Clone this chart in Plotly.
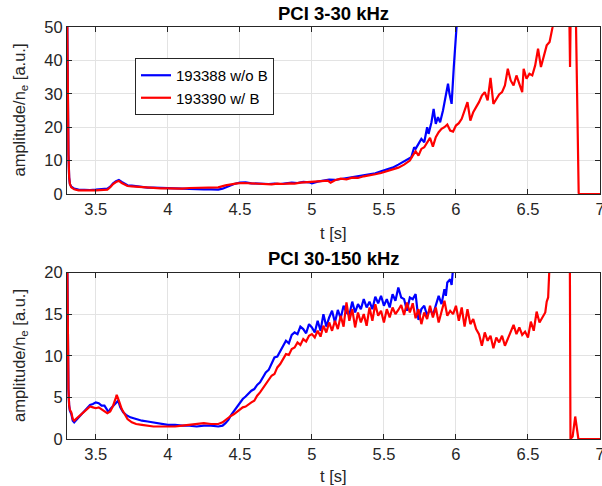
import plotly.graph_objects as go

# ---------------- data ----------------
# Top panel: PCI 3-30 kHz
t_top_blue = [3.300, 3.305, 3.310, 3.315, 3.32, 3.33, 3.35, 3.38, 3.42, 3.46, 3.50, 3.54, 3.58, 3.60, 3.62,
              3.64, 3.66, 3.68, 3.70, 3.72, 3.75, 3.78, 3.82, 3.86, 3.90, 3.95, 4.00, 4.05, 4.10, 4.15,
              4.20, 4.25, 4.30, 4.35, 4.38, 4.42, 4.46, 4.50, 4.54, 4.58, 4.62, 4.66, 4.70, 4.74, 4.78,
              4.82, 4.86, 4.90, 4.94, 4.98, 5.00, 5.04, 5.08, 5.12, 5.16, 5.20, 5.24, 5.28, 5.32, 5.36,
              5.40, 5.44, 5.48, 5.52, 5.56, 5.60, 5.63, 5.66, 5.69, 5.71, 5.72, 5.74, 5.76, 5.78, 5.80,
              5.81, 5.83, 5.845, 5.86, 5.875, 5.89, 5.91, 5.93, 5.945, 5.955, 5.97, 5.985, 5.995, 6.005, 6.02]
v_top_blue = [60, 30, 12, 5, 3, 2.2, 1.6, 1.3, 1.2, 1.2, 1.3, 1.5, 1.6, 2.2, 3.2,
              3.8, 4.2, 3.6, 3.0, 2.6, 2.5, 2.3, 2.1, 1.9, 1.9, 1.8, 1.8, 1.6, 1.5, 1.6,
              1.5, 1.4, 1.4, 1.3, 1.6, 2.3, 3.0, 3.4, 3.5, 3.2, 3.1, 3.2, 3.0, 3.1, 3.0,
              3.2, 3.4, 3.3, 3.6, 3.5, 3.2, 3.7, 3.9, 4.3, 4.2, 4.5, 4.6, 4.9, 5.2, 5.5,
              5.8, 6.2, 6.8, 7.3, 7.9, 8.8, 9.5, 10.2, 11.0, 14.0, 13.5, 15.0, 16.5, 15.5, 20.0,
              18.0, 21.5, 25.5, 21.0, 23.0, 21.5, 25.0, 29.0, 33.0, 30.0, 27.0, 38.0, 45.0, 52.0, 60.0]

t_top_red = [3.300, 3.305, 3.310, 3.315, 3.32, 3.33, 3.35, 3.38, 3.42, 3.46, 3.50, 3.54, 3.58, 3.60, 3.62,
             3.64, 3.66, 3.68, 3.70, 3.72, 3.75, 3.78, 3.82, 3.86, 3.90, 3.95, 4.00, 4.05, 4.10, 4.15,
             4.20, 4.25, 4.30, 4.35, 4.40, 4.44, 4.48, 4.52, 4.56, 4.60, 4.64, 4.68, 4.72, 4.76, 4.80,
             4.84, 4.88, 4.92, 4.96, 5.00, 5.04, 5.08, 5.11, 5.13, 5.16, 5.20, 5.24, 5.28, 5.32, 5.36,
             5.40, 5.44, 5.48, 5.52, 5.56, 5.60, 5.64, 5.68, 5.70, 5.72, 5.74, 5.76, 5.78, 5.80, 5.82,
             5.84, 5.86, 5.88, 5.90, 5.92, 5.94, 5.96, 5.98, 6.00, 6.02, 6.04, 6.06, 6.08, 6.10, 6.12,
             6.14, 6.16, 6.18, 6.20, 6.22, 6.24, 6.26, 6.28, 6.30, 6.32, 6.34, 6.36, 6.38, 6.40, 6.42,
             6.44, 6.46, 6.47, 6.49, 6.51, 6.53, 6.55, 6.57, 6.59, 6.61, 6.63, 6.65, 6.67, 6.69, 6.785,
             6.792, 6.798, 6.83, 6.852, 6.86, 7.00]
v_top_red = [60, 30, 12, 5, 3, 2.0, 1.4, 1.1, 1.0, 1.1, 1.1, 1.2, 1.3, 2.0, 3.0,
             3.6, 3.9, 3.3, 2.8, 2.4, 2.3, 2.2, 2.0, 1.8, 1.8, 1.7, 1.7, 1.6, 1.6, 1.8,
             1.9, 2.0, 1.9, 2.0, 2.6, 3.0, 3.2, 3.3, 3.2, 3.0, 2.9, 3.0, 2.9, 3.1, 3.0,
             3.2, 3.1, 3.4, 3.5, 3.6, 3.8, 3.9, 4.0, 3.4, 4.1, 4.6, 4.4, 4.9, 4.8, 5.3,
             5.5, 5.9, 6.3, 6.8, 7.2, 7.9, 8.8, 10.0, 11.5, 12.8, 11.5, 13.5, 14.0, 15.5, 16.8,
             14.2, 17.0, 18.5, 19.5, 20.0, 20.8, 19.0, 18.7, 20.5, 21.2, 22.5, 25.0, 27.5, 22.0, 24.5,
             26.0, 27.5, 29.5, 30.5, 28.0, 34.8, 27.0, 28.5, 29.8, 30.5, 32.5, 37.5, 34.0, 32.5, 35.5,
             33.0, 30.5, 37.5, 34.5, 36.0, 35.5, 38.5, 43.5, 38.0, 41.5, 44.5, 45.5, 49.8, 60, 60,
             38, 60, 60, 0.3, 0, 0]

# Bottom panel: PCI 30-150 kHz
t_bot_blue = [3.300, 3.305, 3.310, 3.315, 3.32, 3.33, 3.34, 3.35, 3.37, 3.40, 3.43, 3.46, 3.48, 3.50, 3.52,
              3.54, 3.56, 3.58, 3.59, 3.60, 3.62, 3.64, 3.655, 3.67, 3.69, 3.71, 3.74, 3.78, 3.82, 3.86,
              3.90, 3.95, 4.00, 4.05, 4.10, 4.15, 4.20, 4.25, 4.30, 4.35, 4.38, 4.40, 4.42, 4.44, 4.46,
              4.48, 4.50, 4.52, 4.54, 4.56, 4.58, 4.60, 4.62, 4.64, 4.66, 4.68, 4.70, 4.72, 4.74, 4.76,
              4.78, 4.80, 4.82, 4.84, 4.86, 4.88, 4.90, 4.92, 4.94, 4.96, 4.98, 5.00, 5.02, 5.04, 5.06,
              5.08, 5.10, 5.12, 5.14, 5.16, 5.18, 5.20, 5.22, 5.24, 5.26, 5.28, 5.30, 5.32, 5.34, 5.36,
              5.38, 5.40, 5.42, 5.44, 5.46, 5.48, 5.50, 5.52, 5.54, 5.56, 5.58, 5.60, 5.62, 5.64, 5.66,
              5.68, 5.70, 5.72, 5.74, 5.76, 5.78, 5.80, 5.82, 5.84, 5.86, 5.88, 5.90, 5.92, 5.93, 5.94,
              5.96, 5.97, 5.98, 5.99]
v_bot_blue = [25, 12, 6, 4, 3.4, 3.0, 2.2, 2.0, 2.4, 2.9, 3.6, 4.1, 4.2, 4.4, 4.3,
              4.0, 4.0, 3.5, 3.2, 3.6, 4.0, 4.4, 4.6, 3.8, 3.2, 2.9, 2.6, 2.4, 2.2, 2.1,
              2.0, 1.8, 1.7, 1.7, 1.6, 1.6, 1.5, 1.6, 1.6, 1.5, 1.6, 1.9, 2.3, 2.9, 3.4,
              3.9, 4.3, 4.8, 5.1, 5.5, 5.8, 6.0, 6.5, 6.8, 7.4, 8.0, 8.3, 9.0, 9.8, 9.9,
              10.6, 11.3, 11.8, 11.5, 12.5, 12.8, 12.6, 13.5, 13.2, 12.7, 13.8, 13.4, 12.8, 14.2, 13.0,
              15.0, 13.5, 14.6, 15.4, 14.0, 15.5, 14.5, 16.0, 15.2, 14.9, 16.5, 15.2, 16.2, 15.6, 16.8,
              15.8, 16.5, 15.6, 17.1, 16.3, 17.2, 16.0, 16.8, 15.8, 17.4, 16.6, 18.2, 17.0, 16.8, 15.4,
              17.0, 16.8, 17.4, 14.3, 15.6, 16.0, 14.8, 15.6, 14.9, 16.0, 17.2, 16.2, 18.0, 17.2, 18.8,
              19.2, 18.5, 20.5, 22.0]

t_bot_red = [3.300, 3.305, 3.310, 3.315, 3.32, 3.33, 3.34, 3.35, 3.37, 3.40, 3.43, 3.46, 3.48, 3.50, 3.52,
             3.54, 3.56, 3.58, 3.60, 3.62, 3.64, 3.645, 3.66, 3.68, 3.70, 3.72, 3.75, 3.78, 3.82, 3.86,
             3.90, 3.95, 4.00, 4.05, 4.10, 4.15, 4.20, 4.25, 4.30, 4.35, 4.38, 4.40, 4.42, 4.44, 4.46,
             4.48, 4.50, 4.52, 4.54, 4.56, 4.58, 4.60, 4.62, 4.64, 4.66, 4.68, 4.70, 4.72, 4.74, 4.76,
             4.78, 4.80, 4.82, 4.84, 4.86, 4.88, 4.90, 4.92, 4.94, 4.96, 4.98, 5.00, 5.02, 5.04, 5.06,
             5.08, 5.10, 5.12, 5.14, 5.16, 5.18, 5.20, 5.22, 5.24, 5.26, 5.28, 5.30, 5.32, 5.34, 5.36,
             5.38, 5.40, 5.42, 5.44, 5.46, 5.48, 5.50, 5.52, 5.54, 5.56, 5.58, 5.60, 5.62, 5.64, 5.66,
             5.68, 5.70, 5.72, 5.74, 5.76, 5.78, 5.80, 5.82, 5.84, 5.86, 5.88, 5.90, 5.92, 5.94, 5.96,
             5.98, 6.00, 6.02, 6.04, 6.06, 6.08, 6.10, 6.12, 6.14, 6.16, 6.18, 6.20, 6.22, 6.24, 6.26,
             6.28, 6.30, 6.32, 6.34, 6.36, 6.38, 6.40, 6.42, 6.44, 6.46, 6.48, 6.50, 6.52, 6.54, 6.56,
             6.58, 6.60, 6.62, 6.63, 6.64, 6.66, 6.79, 6.795, 6.81, 6.828, 6.85, 7.00]
v_bot_red = [25, 12, 6, 4, 3.5, 3.2, 2.4, 2.2, 2.5, 3.0, 3.5, 3.9, 3.8, 3.7, 3.8,
             3.6, 3.3, 3.1, 3.3, 4.0, 5.0, 5.3, 4.6, 3.6, 3.0, 2.4, 2.0, 1.8, 1.7, 1.6,
             1.5, 1.5, 1.5, 1.5, 1.6, 1.7, 1.8, 1.9, 1.8, 1.8, 2.0, 2.3, 2.6, 2.8, 3.0,
             3.3, 3.6, 3.8, 3.9, 4.2, 4.4, 4.6, 5.2, 5.6, 6.1, 6.6, 7.0, 7.6, 7.8, 8.6,
             9.0, 9.6, 10.2, 10.1, 10.8, 11.0, 11.6, 11.3, 12.0, 11.7, 12.4, 12.6, 12.2, 13.0, 12.3,
             13.6, 12.8, 14.0, 13.0, 14.2, 13.2, 14.8, 13.5, 16.4, 14.2, 15.6, 13.4, 15.2, 14.0, 15.0,
             13.6, 15.8, 14.2, 16.2, 14.8, 15.4, 14.0, 15.6, 14.6, 15.8, 15.0, 15.5, 16.1, 14.9, 16.4,
             15.2, 16.3, 14.5, 15.6, 13.8, 15.2, 14.4, 16.0, 14.6, 15.8, 14.0, 15.2, 16.6, 14.8, 15.4,
             15.0, 16.0, 14.2, 15.8, 13.5, 15.6, 13.8, 14.4, 13.2, 12.6, 11.2, 12.8, 11.8, 12.4, 10.9,
             12.2, 11.6, 12.4, 11.2, 12.0, 12.8, 13.7, 12.6, 13.4, 12.5, 12.9, 12.2, 14.1, 13.0, 15.3,
             14.0, 14.6, 15.2, 16.5, 17.0, 25, 25, 0, 0.3, 2.7, 0, 0]

series_names = ["193388 w/o B", "193390 w/ B"]
panel_titles = ["PCI 3-30 kHz", "PCI 30-150 kHz"]
x_ticks = [3.5, 4, 4.5, 5, 5.5, 6, 6.5, 7]
x_ticktext = ["3.5", "4", "4.5", "5", "5.5", "6", "6.5", "7"]
y_ticks_top = [0, 10, 20, 30, 40, 50]
y_ticks_bot = [0, 5, 10, 15, 20]

# ---------------- figure ----------------
BLUE = "#0000ff"
RED = "#ff0000"
AX = "#262626"
FONT = "Liberation Sans, Arial, sans-serif"
LW = 2.2

fig = go.Figure()
fig.add_trace(go.Scatter(x=t_top_blue, y=v_top_blue, mode="lines", name=series_names[0],
                         line=dict(color=BLUE, width=LW), xaxis="x", yaxis="y"))
fig.add_trace(go.Scatter(x=t_top_red, y=v_top_red, mode="lines", name=series_names[1],
                         line=dict(color=RED, width=LW), xaxis="x", yaxis="y"))
fig.add_trace(go.Scatter(x=t_bot_blue, y=v_bot_blue, mode="lines", name=series_names[0], showlegend=False,
                         line=dict(color=BLUE, width=LW), xaxis="x2", yaxis="y2"))
fig.add_trace(go.Scatter(x=t_bot_red, y=v_bot_red, mode="lines", name=series_names[1], showlegend=False,
                         line=dict(color=RED, width=LW), xaxis="x2", yaxis="y2"))

ax_common = dict(showline=True, linecolor=AX, linewidth=1, mirror="ticks", ticks="inside",
                 ticklen=5, tickcolor=AX, showgrid=True, gridcolor="#e3e3e3", gridwidth=1,
                 zeroline=False, ticklabeloverflow="allow", automargin=False,
                 tickfont=dict(family=FONT, size=16.5, color=AX))

L, R, T, B = 67, 2, 27, 47
H = 486
ph = H - T - B
top_dom = [(H - B - 194) / ph, 1.0]
bot_dom = [0.0, (H - B - 272.5) / ph]

fig.update_layout(
    width=602, height=486, autosize=False,
    margin=dict(l=L, r=R, t=T, b=B),
    paper_bgcolor="white", plot_bgcolor="white",
    font=dict(family=FONT, color=AX),
    xaxis=dict(domain=[0, 1], anchor="y", range=[3.3, 7], tickvals=x_ticks, ticktext=x_ticktext, **ax_common),
    yaxis=dict(domain=top_dom, anchor="x", range=[0, 50], tickvals=y_ticks_top, **ax_common),
    xaxis2=dict(domain=[0, 1], anchor="y2", range=[3.3, 7], tickvals=x_ticks, ticktext=x_ticktext, **ax_common),
    yaxis2=dict(domain=bot_dom, anchor="x2", range=[0, 20], tickvals=y_ticks_bot, **ax_common),
    showlegend=True,
    legend=dict(x=(135 - L) / (602 - L - R), y=(H - B - 58) / ph, xanchor="left", yanchor="top",
                bgcolor="white", bordercolor=AX, borderwidth=1,
                font=dict(family=FONT, size=15, color="black"), tracegroupgap=0),
)

def ypaper(py):
    return (H - B - py) / ph

ann = []
ann.append(dict(text="<b>%s</b>" % panel_titles[0], x=0.5, y=ypaper(14), xref="paper", yref="paper",
                showarrow=False, font=dict(family=FONT, size=18.5, color="black"), xanchor="center", yanchor="middle"))
ann.append(dict(text="<b>%s</b>" % panel_titles[1], x=0.5, y=ypaper(258), xref="paper", yref="paper",
                showarrow=False, font=dict(family=FONT, size=18.5, color="black"), xanchor="center", yanchor="middle"))
ann.append(dict(text="t [s]", x=0.5, y=ypaper(233), xref="paper", yref="paper", showarrow=False,
                font=dict(family=FONT, size=16.5, color=AX), xanchor="center", yanchor="middle"))
ann.append(dict(text="t [s]", x=0.5, y=ypaper(476), xref="paper", yref="paper", showarrow=False,
                font=dict(family=FONT, size=16.5, color=AX), xanchor="center", yanchor="middle"))
for yc in [110.5, 356]:
    ann.append(dict(text="amplitude/n<sub>e</sub> [a.u.]", x=(20 - L) / (602 - L - R), y=ypaper(yc),
                    xref="paper", yref="paper", showarrow=False, textangle=-90,
                    font=dict(family=FONT, size=16.5, color=AX), xanchor="center", yanchor="middle"))
fig.update_layout(annotations=ann)

fig.write_html("out.html", include_plotlyjs=True, config={"displayModeBar": False},
               post_script="document.body.style.margin='0';document.body.style.padding='0';"
                           "document.body.style.overflow='hidden';")
